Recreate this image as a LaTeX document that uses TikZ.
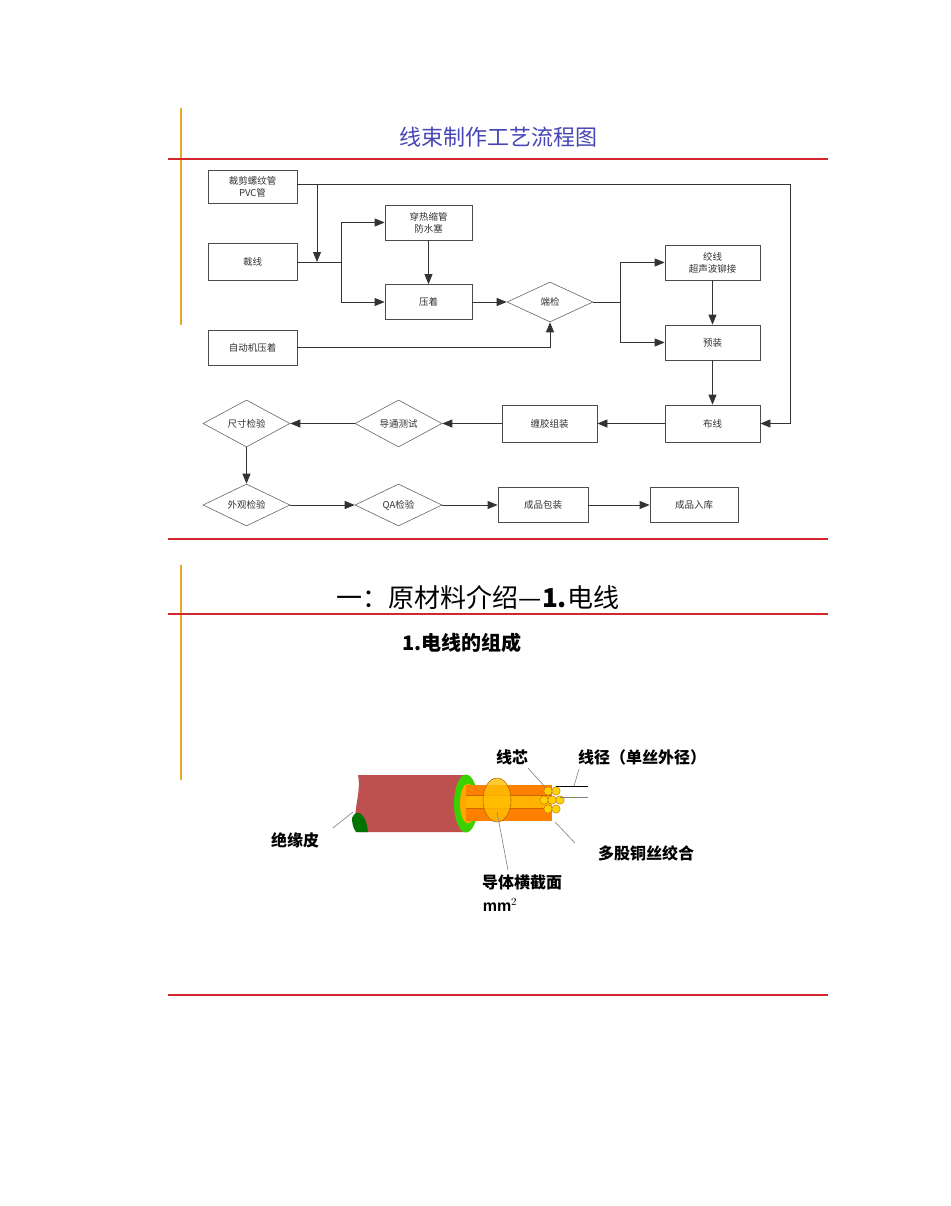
\documentclass[tikz,border=0pt]{standalone}
\usepackage{fontspec}
\setmainfont{Liberation Sans}
\newfontfamily\cjk{Noto Sans CJK SC}
\usetikzlibrary{shapes.geometric,arrows.meta}
\definecolor{rl}{RGB}{210,40,45}
\definecolor{ol}{RGB}{230,170,40}
\definecolor{tb}{RGB}{70,70,180}
\definecolor{jk}{RGB}{190,80,80}
\begin{document}
\begin{tikzpicture}[x=1pt,y=-1pt,
  bx/.style={draw=black!70,line width=0.8pt,minimum width=89pt,minimum height=35pt,inner sep=1pt,font=\cjk\fontsize{9.5}{12}\selectfont,align=center,text=black!80},
  dm/.style={draw=black!60,line width=0.6pt,diamond,aspect=2.1,minimum width=87pt,minimum height=44pt,inner sep=0pt,font=\cjk\fontsize{9.5}{12}\selectfont,text=black!80},
  ln/.style={line width=0.8pt,black!80},
  ar/.style={ln,-{Triangle[length=10pt,width=8pt]}},
  rline/.style={rl,line width=1.3pt},
  lead/.style={black!50,line width=0.6pt},
  lab/.style={font=\cjk\bfseries\fontsize{16}{18}\selectfont}]
\useasboundingbox (0,0) rectangle (950,1206);
\fill[white] (0,0) rectangle (950,1206);
\draw[ol,line width=2.5pt] (181,108) -- (181,325);
\draw[ol,line width=2.5pt] (181,565) -- (181,780);
\node[text=tb,font=\cjk\fontsize{22}{26}\selectfont] (t1) at (498,137) {线束制作工艺流程图};
\draw[rline] (168,159) -- (828,159);
% flow nodes
\node[bx,minimum height=33pt] (a) at (252.5,186.5) {裁剪螺纹管\\PVC管};
\node[bx,minimum height=37pt] (b) at (252.5,262) {裁线};
\node[bx,minimum width=87pt] (c) at (428.5,222.5) {穿热缩管\\防水塞};
\node[bx,minimum width=87pt] (d) at (428.5,302) {压着};
\node[dm,minimum width=86pt,minimum height=40pt] (e) at (550,302) {端检};
\node[bx,minimum width=95pt] (f) at (712.5,262.5) {绞线\\超声波铆接};
\node[bx,minimum width=95pt] (g) at (712.5,342.5) {预装};
\node[bx] (h) at (252.5,347.5) {自动机压着};
\node[bx,minimum width=95pt,minimum height=37pt] (i) at (712.5,423.5) {布线};
\node[bx,minimum width=95pt,minimum height=37pt] (j) at (549.5,423.5) {缠胶组装};
\node[dm,minimum height=47pt] (k) at (398.5,423.5) {导通测试};
\node[dm,minimum height=47pt] (l) at (246.5,423.5) {尺寸检验};
\node[dm,minimum height=42pt] (m) at (246.5,505) {外观检验};
\node[dm,minimum height=42pt] (n) at (398.5,505) {QA检验};
\node[bx,minimum width=90pt] (o) at (543,505) {成品包装};
\node[bx,minimum width=88pt] (p) at (694,505) {成品入库};
\coordinate (j1) at (317,262);
\coordinate (j2) at (341,262);
% connectors
\draw[ln] (a.east|-0,184) -- (790,184) coordinate (r1);
\draw[ar] (r1) |- (i.east);
\draw[ar] (317,184) -- (j1);
\draw[ln] (b.east) -- (j2);
\draw[ar] (j2) |- (c.west);
\draw[ar] (j2) |- (d.west);
\draw[ar] (c) -- (d);
\draw[ar] (d) -- (e);
\draw[ln] (e.east) -- (620,302) coordinate (j3);
\draw[ar] (j3) |- (f.west);
\draw[ar] (j3) |- (g.west);
\draw[ar] (f) -- (g);
\draw[ar] (g) -- (i);
\draw[ar] (h.east) -| (e.south);
\draw[ar] (i) -- (j);
\draw[ar] (j) -- (k);
\draw[ar] (k) -- (l);
\draw[ar] (l) -- (m);
\draw[ar] (m) -- (n);
\draw[ar] (n) -- (o);
\draw[ar] (o) -- (p);
\draw[rline] (168,539) -- (828,539);
% section 2
\node[font=\cjk\fontsize{26}{30}\selectfont] (t2) at (478,598) {一：原材料介绍—\textbf{1.}电线};
\draw[rline] (168,614) -- (828,614);
\node[font=\cjk\bfseries\fontsize{20}{24}\selectfont] (t3) at (462,643) {1.电线的组成};
% cable
\fill[jk] (358,775) -- (465,775) -- (465,832) -- (358,832) .. controls (350,815) and (362,795) .. (358,775);
\fill[green!45!black] (352,818) .. controls (356,808) and (366,812) .. (368,832) -- (356,832) .. controls (353,828) and (352,823) .. (352,818);
\fill[green!75!black!70!lime] (466,803.5) ellipse (12 and 29);
\fill[orange!70!yellow] (468,803.5) ellipse (8 and 20);
\fill[orange] (466,785) rectangle (552,821);
\fill[orange!60!yellow] (466,795) rectangle (552,808);
\draw[orange!80!black,line width=0.3pt] (466,795) -- (552,795) (466,808) -- (552,808);
\fill[orange!50!yellow,opacity=0.8] (497,800) ellipse (14 and 22);
\draw[orange!70!black,line width=0.5pt] (497,800) ellipse (14 and 22);
\foreach \p in {(548,791),(556,791),(544,800),(552,800),(560,800),(548,809),(556,809)}
  \draw[fill=yellow!70!orange,draw=orange!80!black,line width=0.4pt] \p circle (4.2);
\draw[black,line width=0.6pt] (556,786) -- (588,786);
\draw[black!50,line width=0.6pt] (560,797) -- (588,797);
\node[lab] (l1) at (512,757) {线芯};
\node[lab] (l2) at (642,757) {线径（单丝外径）};
\node[lab] (l3) at (295,840) {绝缘皮};
\node[lab] (l4) at (646,853) {多股铜丝绞合};
\node[lab,align=left] (l5) at (522,882) {导体横截面};
\node[font=\bfseries\fontsize{16}{18}\selectfont] (l6) at (500,905) {mm$^2$};
\draw[lead] (333,828) -- (353,812);
\draw[lead] (528,768) -- (545,787);
\draw[lead] (579,769) -- (574,786);
\draw[lead] (575,843) -- (555,822);
\draw[lead] (508,870) -- (497,812);
\draw[rline] (168,995) -- (828,995);
\end{tikzpicture}
\end{document}
